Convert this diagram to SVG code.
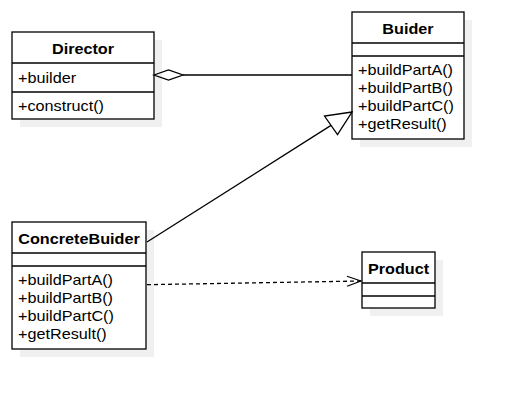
<svg xmlns="http://www.w3.org/2000/svg" width="513" height="400" viewBox="0 0 513 400">
<style>
.box{fill:#fff;stroke:#000;stroke-width:1.3}
.shadow{fill:#f0f0f0;stroke:none}
.sep{stroke:#000;stroke-width:1.3}
.t{font-family:"Liberation Sans",Arial,sans-serif;font-size:15px;fill:#000}
.b{font-weight:bold;text-anchor:middle}
.conn{fill:none;stroke:#000;stroke-width:1.3}
</style>
<defs>
<marker id="open" viewBox="0 0 16 12" refX="15" refY="6" markerWidth="16" markerHeight="12" markerUnits="userSpaceOnUse" orient="auto">
<path d="M1,1 L15,6 L1,11" fill="none" stroke="#000" stroke-width="1.3"/>
</marker>
</defs>
<rect width="513" height="400" fill="#fff"/>
<g id="Director">
<rect class="shadow" x="20" y="40" width="142" height="87"/>
<rect class="box" x="12" y="32" width="142" height="87"/>
<line class="sep" x1="12" y1="63" x2="154" y2="63"/>
<line class="sep" x1="12" y1="92" x2="154" y2="92"/>
<text class="t b" transform="translate(83,54) scale(1.08,1)">Director</text>
<text class="t" transform="translate(18,83) scale(1.08,1)">+builder</text>
<text class="t" transform="translate(18,111) scale(1.08,1)">+construct()</text>
</g>
<g id="Buider">
<rect class="shadow" x="360" y="20" width="112" height="127"/>
<rect class="box" x="352" y="12" width="112" height="127"/>
<line class="sep" x1="352" y1="43" x2="464" y2="43"/>
<line class="sep" x1="352" y1="56" x2="464" y2="56"/>
<text class="t b" transform="translate(408,34) scale(1.08,1)">Buider</text>
<text class="t" transform="translate(358,75) scale(1.08,1)">+buildPartA()</text>
<text class="t" transform="translate(358,93) scale(1.08,1)">+buildPartB()</text>
<text class="t" transform="translate(358,111) scale(1.08,1)">+buildPartC()</text>
<text class="t" transform="translate(358,129) scale(1.08,1)">+getResult()</text>
</g>
<g id="ConcreteBuider">
<rect class="shadow" x="20" y="230" width="134" height="127"/>
<rect class="box" x="12" y="222" width="134" height="127"/>
<line class="sep" x1="12" y1="253" x2="146" y2="253"/>
<line class="sep" x1="12" y1="266" x2="146" y2="266"/>
<text class="t b" transform="translate(79,244) scale(1.08,1)">ConcreteBuider</text>
<text class="t" transform="translate(18,285) scale(1.08,1)">+buildPartA()</text>
<text class="t" transform="translate(18,303) scale(1.08,1)">+buildPartB()</text>
<text class="t" transform="translate(18,321) scale(1.08,1)">+buildPartC()</text>
<text class="t" transform="translate(18,339) scale(1.08,1)">+getResult()</text>
</g>
<g id="Product">
<rect class="shadow" x="370" y="260" width="73" height="56"/>
<rect class="box" x="362" y="252" width="73" height="56"/>
<line class="sep" x1="362" y1="283" x2="435" y2="283"/>
<line class="sep" x1="362" y1="296" x2="435" y2="296"/>
<text class="t b" transform="translate(398.5,274) scale(1.08,1)">Product</text>
</g>
<g id="connectors">
<path class="conn" d="M183,75 L352,75"/>
<path class="conn" d="M154,75 L168.5,70 L183,75 L168.5,80 Z" fill="#fff"/>
<path class="conn" d="M147,242 L331,125.4"/>
<path class="conn" d="M352,112 L324.5,116 L337.5,134.6 Z" fill="#fff"/>
<path class="conn" d="M147,284.7 L361,281" stroke-dasharray="4,3" marker-end="url(#open)"/>
</g>
</svg>
